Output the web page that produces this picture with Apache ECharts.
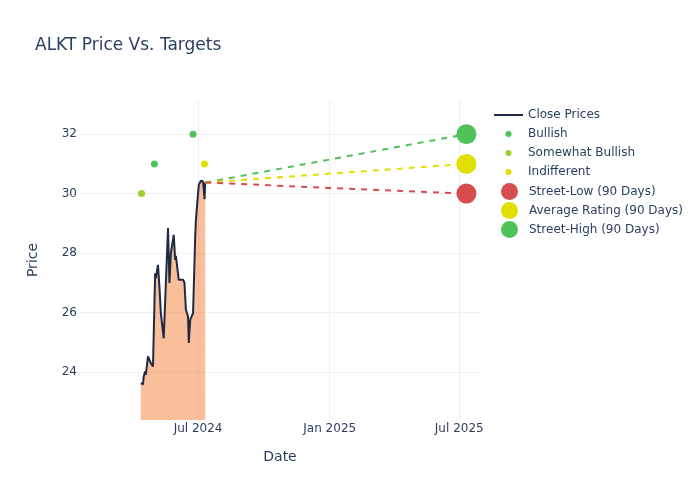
<!DOCTYPE html>
<html>
<head>
<meta charset="utf-8">
<script src="https://cdn.jsdelivr.net/npm/echarts@6/dist/echarts.min.js"></script>
<style>
  html, body { margin: 0; padding: 0; background: #fff; }
  #chart { width: 700px; height: 500px; }
</style>
</head>
<body>
<div id="chart"></div>
<script>
// 收盘价
const closeDates = [
    '2024-04-12', '2024-04-15', '2024-04-16', '2024-04-18', '2024-04-19',
    '2024-04-22', '2024-04-24', '2024-04-26', '2024-04-29', '2024-05-02',
    '2024-05-03', '2024-05-06', '2024-05-08', '2024-05-10', '2024-05-14',
    '2024-05-20', '2024-05-22', '2024-05-24', '2024-05-28', '2024-05-30',
    '2024-05-31', '2024-06-04', '2024-06-06', '2024-06-10', '2024-06-12',
    '2024-06-14', '2024-06-17', '2024-06-18', '2024-06-20', '2024-06-24',
    '2024-06-27', '2024-06-28', '2024-07-02', '2024-07-05', '2024-07-08',
    '2024-07-10', '2024-07-11'
];
const closeValues = [
    23.62, 23.58, 23.84, 24.01, 23.90,
    24.52, 24.50, 24.29, 24.18, 27.32,
    27.15, 27.60, 26.87, 25.98, 25.13,
    28.84, 26.99, 28.00, 28.61, 27.77,
    27.90, 27.10, 27.15, 27.10, 27.00,
    26.09, 25.86, 24.97, 25.75, 25.98,
    28.56, 29.12, 30.30, 30.43, 30.41,
    29.81, 30.37
];

// 分析师评级
const bullishDates = ['2024-05-01', '2024-06-24'];
const bullishValues = [31, 32];
const somewhatBullishDates = ['2024-04-13'];
const somewhatBullishValues = [30];
const indifferentDates = ['2024-07-10'];
const indifferentValues = [31];

// 90天目标价
const targetStart = '2024-07-11';
const targetEnd = '2025-07-11';
const streetLow = 30;
const averageRating = 31;
const streetHigh = 32;

// 坐标轴刻度
const xTicks = ['2024-07-01', '2025-01-01', '2025-07-01'];
const yTicks = [24, 26, 28, 30, 32];

const monthNames = ['Jan', 'Feb', 'Mar', 'Apr', 'May', 'Jun', 'Jul', 'Aug', 'Sep', 'Oct', 'Nov', 'Dec'];
const ts = s => new Date(s + 'T00:00:00Z').getTime();
const lastClose = closeValues[closeValues.length - 1];

const textColor = '#2a3f5f';
const gridColor = '#ebf0f8';
const font = 'DejaVu Sans';
const green = '#4fc35a';
const yellow = '#e0e000';
const red = '#d64c4f';
const yellowGreen = '#97d12a';

const chart = echarts.init(document.getElementById('chart'));

function targetLine(name, value, color) {
    return {
        name: name,
        type: 'line',
        data: [[ts(targetStart), lastClose], [ts(targetEnd), value]],
        symbol: 'none',
        lineStyle: { color: color, width: 2, type: [6, 6] },
        z: 3,
        silent: true
    };
}

const option = {
    animation: false,
    backgroundColor: '#fff',
    textStyle: { fontFamily: font },
    title: {
        text: 'ALKT Price Vs. Targets',
        left: 30,
        top: 32,
        textStyle: { fontFamily: font, fontSize: 17, fontWeight: 'normal', color: textColor }
    },
    grid: { left: 80, right: 220, top: 100, bottom: 80 },
    legend: [
        {
            orient: 'vertical',
            left: 493,
            top: 109,
            padding: 0,
            itemWidth: 29,
            itemHeight: 6,
            itemGap: 7,
            textStyle: { fontFamily: font, fontSize: 12, color: textColor },
            data: [
                { name: 'Close Prices', itemStyle: { opacity: 0 } },
                { name: 'Bullish', icon: 'circle' },
                { name: 'Somewhat Bullish', icon: 'circle' },
                { name: 'Indifferent', icon: 'circle' }
            ]
        },
        {
            orient: 'vertical',
            left: 501,
            top: 183,
            padding: 0,
            itemWidth: 29,
            itemHeight: 17,
            itemGap: 2,
            textStyle: { fontFamily: font, fontSize: 12, color: textColor },
            data: [
                { name: 'Street-Low (90 Days)', icon: 'circle' },
                { name: 'Average Rating (90 Days)', icon: 'circle' },
                { name: 'Street-High (90 Days)', icon: 'circle' }
            ]
        }
    ],
    xAxis: {
        type: 'value',
        min: ts('2024-01-18'),
        max: ts('2025-07-30'),
        name: 'Date',
        nameLocation: 'middle',
        nameGap: 30,
        nameTextStyle: { fontFamily: font, fontSize: 14, color: textColor },
        axisLine: { show: false },
        axisTick: { show: false, customValues: xTicks.map(ts) },
        axisLabel: {
            customValues: xTicks.map(ts),
            color: textColor,
            fontFamily: font,
            fontSize: 12,
            margin: 3,
            formatter: v => {
                const d = new Date(v);
                return monthNames[d.getUTCMonth()] + ' ' + d.getUTCFullYear();
            }
        },
        splitLine: { show: true, lineStyle: { color: gridColor, width: 1 } }
    },
    yAxis: {
        type: 'value',
        min: 22.38,
        max: 33.15,
        name: 'Price',
        nameLocation: 'middle',
        nameGap: 40,
        nameTextStyle: { fontFamily: font, fontSize: 14, color: textColor },
        axisLine: { show: false },
        axisTick: { show: false, customValues: yTicks },
        axisLabel: {
            customValues: yTicks,
            color: textColor,
            fontFamily: font,
            fontSize: 12,
            margin: 3
        },
        splitLine: { show: true, lineStyle: { color: gridColor, width: 1 } }
    },
    series: [
        {
            name: 'Close Prices',
            type: 'line',
            data: closeDates.map((d, i) => [ts(d), closeValues[i]]),
            symbol: 'none',
            lineStyle: { color: '#1f2a44', width: 2 },
            itemStyle: { color: '#1f2a44' },
            areaStyle: { color: 'rgba(244,125,54,0.5)', opacity: 1, origin: 'start' },
            z: 2
        },
        targetLine('high-line', streetHigh, green),
        targetLine('avg-line', averageRating, yellow),
        targetLine('low-line', streetLow, red),
        {
            name: 'Bullish',
            type: 'scatter',
            data: bullishDates.map((d, i) => [ts(d), bullishValues[i]]),
            symbolSize: 7,
            itemStyle: { color: green, opacity: 1 },
            z: 4
        },
        {
            name: 'Somewhat Bullish',
            type: 'scatter',
            data: somewhatBullishDates.map((d, i) => [ts(d), somewhatBullishValues[i]]),
            symbolSize: 7,
            itemStyle: { color: yellowGreen, opacity: 1 },
            z: 4
        },
        {
            name: 'Indifferent',
            type: 'scatter',
            data: indifferentDates.map((d, i) => [ts(d), indifferentValues[i]]),
            symbolSize: 7,
            itemStyle: { color: yellow, opacity: 1 },
            z: 4
        },
        {
            name: 'Street-Low (90 Days)',
            type: 'scatter',
            data: [[ts(targetEnd), streetLow]],
            symbolSize: 20,
            itemStyle: { color: red, opacity: 1 },
            z: 5
        },
        {
            name: 'Average Rating (90 Days)',
            type: 'scatter',
            data: [[ts(targetEnd), averageRating]],
            symbolSize: 20,
            itemStyle: { color: yellow, opacity: 1 },
            z: 5
        },
        {
            name: 'Street-High (90 Days)',
            type: 'scatter',
            data: [[ts(targetEnd), streetHigh]],
            symbolSize: 20,
            itemStyle: { color: green, opacity: 1 },
            z: 5
        }
    ]
};

chart.setOption(option);

window.addEventListener('resize', function () {
    chart.resize();
});
</script>
</body>
</html>
